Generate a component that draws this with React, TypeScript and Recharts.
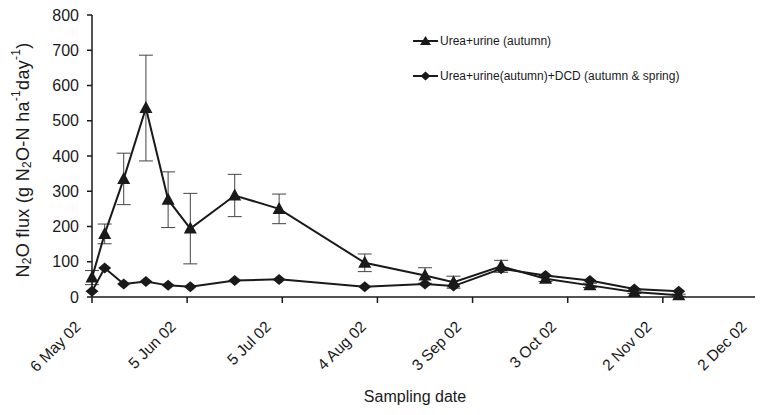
import { LineChart, Line, XAxis, YAxis, Legend, ErrorBar } from "recharts";

// days after 6 May 02
const sampleDays = [0, 4, 10, 17, 24, 31, 45, 59, 86, 105, 114, 129, 143, 157, 171, 185];
const ureaUrine = [55, 179, 335, 536, 276, 194, 288, 250, 97, 61, 42, 87, 52, 33, 14, 5];
const ureaUrineErr = [20, 28, 73, 150, 79, 100, 60, 42, 25, 22, 17, 17, 8, 6, 4, 3];
const ureaUrineDcd = [16, 82, 37, 44, 33, 29, 47, 50, 29, 37, 31, 80, 61, 47, 23, 16];

const tickDays = [0, 30, 60, 90, 120, 150, 180, 210];
const tickLabels = ["6 May 02", "5 Jun 02", "5 Jul 02", "4 Aug 02", "3 Sep 02", "3 Oct 02", "2 Nov 02", "2 Dec 02"];
const yTicks = [0, 100, 200, 300, 400, 500, 600, 700, 800];

const NAME_A = "Urea+urine (autumn)";
const NAME_B = "Urea+urine(autumn)+DCD (autumn & spring)";

const data = sampleDays.map((d, i) => ({
  day: d,
  a: ureaUrine[i],
  aErr: ureaUrineErr[i],
  b: ureaUrineDcd[i],
}));

const FONT = "'Liberation Sans', Arial, sans-serif";
const INK = "#1a1a1a";

function Tri(p: any) {
  const { cx, cy, index } = p;
  if (cx == null || cy == null) return null;
  return (
    <polygon key={`t${index}`}
      points={`${cx},${cy - 7} ${cx - 6.5},${cy + 5} ${cx + 6.5},${cy + 5}`}
      fill={INK} />
  );
}

function Dia(p: any) {
  const { cx, cy, index } = p;
  if (cx == null || cy == null) return null;
  return (
    <polygon key={`d${index}`}
      points={`${cx},${cy - 5.5} ${cx + 6.5},${cy} ${cx},${cy + 5.5} ${cx - 6.5},${cy}`}
      fill={INK} />
  );
}

function DateTick(p: any) {
  const { x, y, payload } = p;
  const i = tickDays.indexOf(payload.value);
  return (
    <g transform={`translate(${x - 18},${y + 15})`}>
      <text textAnchor="end" transform="rotate(-45)" dy="0.7em"
        fontSize={15.5} fontFamily={FONT} fill={INK}>
        {tickLabels[i]}
      </text>
    </g>
  );
}

function YLabel(p: any) {
  const vb = p.viewBox || {};
  const cx = 15;
  const cy = vb.y + vb.height / 2 + 4;
  return (
    <text transform={`translate(${cx},${cy}) rotate(-90)`} textAnchor="middle"
      dominantBaseline="central" fontSize={18} letterSpacing={0.3} fontFamily={FONT} fill={INK}>
      <tspan>N</tspan>
      <tspan fontSize={12} dy={4}>2</tspan>
      <tspan dy={-4}>O flux (g N</tspan>
      <tspan fontSize={12} dy={4}>2</tspan>
      <tspan dy={-4}>O-N ha</tspan>
      <tspan fontSize={12} dy={-7}>-1</tspan>
      <tspan dy={7}>day</tspan>
      <tspan fontSize={12} dy={-7}>-1</tspan>
      <tspan dy={7}>)</tspan>
    </text>
  );
}

function LegendBox() {
  const rows = [
    { name: NAME_A, shape: "tri" },
    { name: NAME_B, shape: "dia" },
  ];
  return (
    <div style={{ fontFamily: FONT, fontSize: 12, color: INK }}>
      {rows.map((r) => (
        <div key={r.name} style={{ display: "flex", alignItems: "center", height: 18, marginBottom: 17 }}>
          <svg width={26} height={14} style={{ marginRight: 1 }}>
            <line x1={0} y1={7} x2={25} y2={7} stroke={INK} strokeWidth={2} />
            {r.shape === "tri"
              ? <polygon points="12.5,2 7,11 18,11" fill={INK} />
              : <polygon points="12.5,2.5 17.5,7 12.5,11.5 7.5,7" fill={INK} />}
          </svg>
          <span>{r.name}</span>
        </div>
      ))}
    </div>
  );
}

export default function App() {
  return (
    <LineChart width={755} height={400} data={data}
      margin={{ top: 7, right: 5, bottom: 5, left: 24 }}
      style={{ fontFamily: FONT }}>
      <XAxis dataKey="day" type="number" domain={[0, 210]} ticks={tickDays}
        tick={<DateTick />} tickSize={6} interval={0}
        axisLine={{ stroke: INK, strokeWidth: 1.5 }} tickLine={{ stroke: INK, strokeWidth: 1.5 }}
        height={106}
        label={{ value: "Sampling date", position: "insideBottom", offset: 1, dx: -10,
          fontSize: 16, fill: INK, fontFamily: FONT }} />
      <YAxis domain={[0, 800]} ticks={yTicks} interval={0} width={60}
        tick={{ fontSize: 16, fill: INK, fontFamily: FONT }} tickSize={5} tickMargin={8}
        axisLine={{ stroke: INK, strokeWidth: 1.5 }} tickLine={{ stroke: INK, strokeWidth: 1.5 }}
        label={<YLabel />} />
      <Legend layout="vertical" verticalAlign="middle" align="center"
        content={<LegendBox />}
        wrapperStyle={{ left: 405, top: 24, width: 320 }} />
      <Line dataKey="a" name={NAME_A} stroke={INK} strokeWidth={2}
        dot={Tri} activeDot={false} isAnimationActive={false}>
        <ErrorBar dataKey="aErr" direction="y" width={7} stroke="#444" strokeWidth={1} />
      </Line>
      <Line dataKey="b" name={NAME_B} stroke={INK} strokeWidth={2}
        dot={Dia} activeDot={false} isAnimationActive={false} />
    </LineChart>
  );
}
